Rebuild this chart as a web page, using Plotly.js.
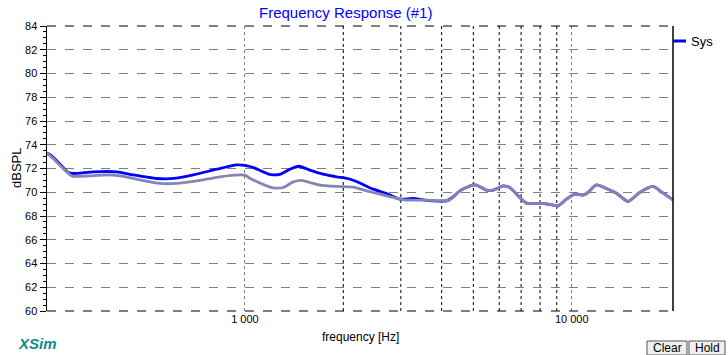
<!DOCTYPE html>
<html>
<head>
<meta charset="utf-8">
<script src="https://cdn.plot.ly/plotly-3.0.1.min.js"></script>
<style>
html,body{margin:0;padding:0;background:#fff;}
#chart{width:728px;height:355px;}
</style>
</head>
<body>
<div id="chart"></div>
<script>
// ---- data ----
const sysFreq = [248,256,272,288,298,344,405,455,537,604,695,820,943,1000,1036,1060,1138,1193,1279,1373,1466,1580,1735,1907,2046,2196,2469,2713,2979,3272,3510,3767,4139,4335,4545,4764,4991,5112,5485,5745,6165,6464,6934,7269,7985,8565,9080,9634,10214,10830,11215,11900,12766,13700,14867,16144,17731,18807,20411];
const sysDb   = [73.3,73.06,72.36,71.66,71.58,71.72,71.72,71.46,71.16,71.16,71.46,71.94,72.3,72.27,72.17,72.08,71.72,71.5,71.5,71.94,72.19,71.86,71.52,71.3,71.18,70.9,70.26,69.9,69.42,69.48,69.36,69.28,69.28,69.6,70.12,70.4,70.62,70.6,70.18,70.18,70.54,70.4,69.56,69.08,69.06,68.97,68.86,69.42,69.84,69.76,69.98,70.62,70.32,69.92,69.22,69.98,70.49,70.03,69.36];

const refFreq = [248,259,278,295,336,378,415,477,550,618,712,839,965,1000,1036,1060,1165,1220,1310,1405,1491,1580,1696,1907,2144,2356,2587,2841,3122,3595,3948,4237,4335,4545,4764,4991,5112,5485,5745,6165,6464,6934,7269,7985,8565,9080,9634,10214,10830,11215,11900,12766,13700,14867,16144,17731,18807,20411];
const refDb   = [73.3,72.84,72.0,71.38,71.38,71.46,71.38,71.04,70.74,70.74,70.96,71.3,71.46,71.44,71.18,71.04,70.54,70.37,70.4,70.87,71.0,70.82,70.6,70.49,70.43,70.12,69.84,69.56,69.34,69.34,69.28,69.36,69.6,70.12,70.4,70.62,70.6,70.18,70.18,70.54,70.4,69.56,69.08,69.06,68.97,68.86,69.42,69.84,69.76,69.98,70.62,70.32,69.92,69.22,69.98,70.49,70.03,69.36];

const yTicks = [60,62,64,66,68,70,72,74,76,78,80,82,84];
const xTickVals = [1000,10000];
const xTickText = ['1 000','10 000'];
const darkGridFreqs = [2000,3000,4000,5000,6000,7000,8000,9000];

// ---- layout helpers (plot area: x 47..673, y 26..311) ----
const L=47,R=673,T=26,B=311;
const PX = p => (p-L)/(R-L);
const PY = p => (B-p)/(B-T);
const FONT = 'Arial, Liberation Sans, sans-serif';

const traces = [
  {x: sysFreq, y: sysDb, type:'scatter', mode:'lines', name:'Sys',
   line:{color:'#0000ff', width:2.8, shape:'spline', smoothing:0.6}, showlegend:false, hoverinfo:'skip'},
  {x: refFreq, y: refDb, type:'scatter', mode:'lines', name:'ref',
   line:{color:'#8585b5', width:2.8, shape:'spline', smoothing:0.6}, showlegend:false, hoverinfo:'skip'}
];

const shapes = [];
darkGridFreqs.forEach(f => shapes.push({type:'line', xref:'x', yref:'paper', x0:f, x1:f, y0:0, y1:1,
  line:{color:'#000', width:1, dash:'dot'}, layer:'below'}));
// border lines
shapes.push({type:'line', xref:'paper', yref:'paper', x0:0, x1:1, y0:1, y1:1, line:{color:'#000', width:1, dash:'dash'}});
shapes.push({type:'line', xref:'paper', yref:'paper', x0:0, x1:1, y0:0, y1:0, line:{color:'#000', width:1, dash:'dash'}});
shapes.push({type:'line', xref:'paper', yref:'paper', x0:1, x1:1, y0:0, y1:1, line:{color:'#000', width:1.5}});
// legend sample
shapes.push({type:'line', xref:'paper', yref:'paper', x0:PX(673), x1:PX(686), y0:PY(41), y1:PY(41), line:{color:'#0000ff', width:3}});
// buttons
shapes.push({type:'rect', xref:'paper', yref:'paper', x0:PX(647), x1:PX(687), y0:PY(355), y1:PY(341), fillcolor:'#f0f0f0', line:{color:'#555', width:1}});
shapes.push({type:'rect', xref:'paper', yref:'paper', x0:PX(689), x1:PX(725), y0:PY(355), y1:PY(341), fillcolor:'#f0f0f0', line:{color:'#555', width:1}});

const annotations = [
  {text:'Frequency Response (#1)', xref:'paper', yref:'paper', x:PX(345), y:PY(12), showarrow:false,
   font:{family:FONT, size:15, color:'#0000ff'}, xanchor:'center', yanchor:'middle'},
  {text:'frequency [Hz]', xref:'paper', yref:'paper', x:PX(360), y:PY(337), showarrow:false,
   font:{family:FONT, size:12, color:'#000'}, xanchor:'center', yanchor:'middle'},
  {text:'dBSPL', xref:'paper', yref:'paper', x:PX(16), y:PY(168), showarrow:false, textangle:-90,
   font:{family:FONT, size:13, color:'#000'}, xanchor:'center', yanchor:'middle'},
  {text:'Sys', xref:'paper', yref:'paper', x:PX(689), y:PY(42), showarrow:false,
   font:{family:FONT, size:13, color:'#000'}, xanchor:'left', yanchor:'middle'},
  {text:'<b><i>XSim</i></b>', xref:'paper', yref:'paper', x:PX(16), y:PY(343), showarrow:false,
   font:{family:FONT, size:15, color:'#0e8a8a'}, xanchor:'left', yanchor:'middle'},
  {text:'Clear', xref:'paper', yref:'paper', x:PX(667), y:PY(348), showarrow:false,
   font:{family:FONT, size:12, color:'#000'}, xanchor:'center', yanchor:'middle'},
  {text:'Hold', xref:'paper', yref:'paper', x:PX(707), y:PY(348), showarrow:false,
   font:{family:FONT, size:12, color:'#000'}, xanchor:'center', yanchor:'middle'}
];

const layout = {
  width:728, height:355,
  margin:{l:L, r:728-R, t:T, b:355-B, pad:0},
  paper_bgcolor:'#fff', plot_bgcolor:'#fff',
  showlegend:false,
  font:{family:FONT, size:11, color:'#000'},
  xaxis:{type:'log', range:[Math.log10(248), Math.log10(20411)], autorange:false,
    tickvals:xTickVals, ticktext:xTickText, ticks:'', showline:false, zeroline:false,
    showgrid:true, gridcolor:'#808080', griddash:'dot', gridwidth:1,
    tickfont:{size:11, color:'#000'}},
  yaxis:{range:[60,84], autorange:false, tickvals:yTicks, ticks:'outside', ticklen:6, tickcolor:'#000',
    showline:true, linecolor:'#000', linewidth:1.5, zeroline:false,
    showgrid:true, gridcolor:'#808080', griddash:'dash', gridwidth:1,
    minor:{dtick:0.5, ticks:'outside', ticklen:3, tickcolor:'#000', showgrid:false},
    tickfont:{size:11, color:'#000'}},
  shapes:shapes,
  annotations:annotations
};

Plotly.newPlot('chart', traces, layout, {displayModeBar:false, staticPlot:true});
</script>
</body>
</html>
